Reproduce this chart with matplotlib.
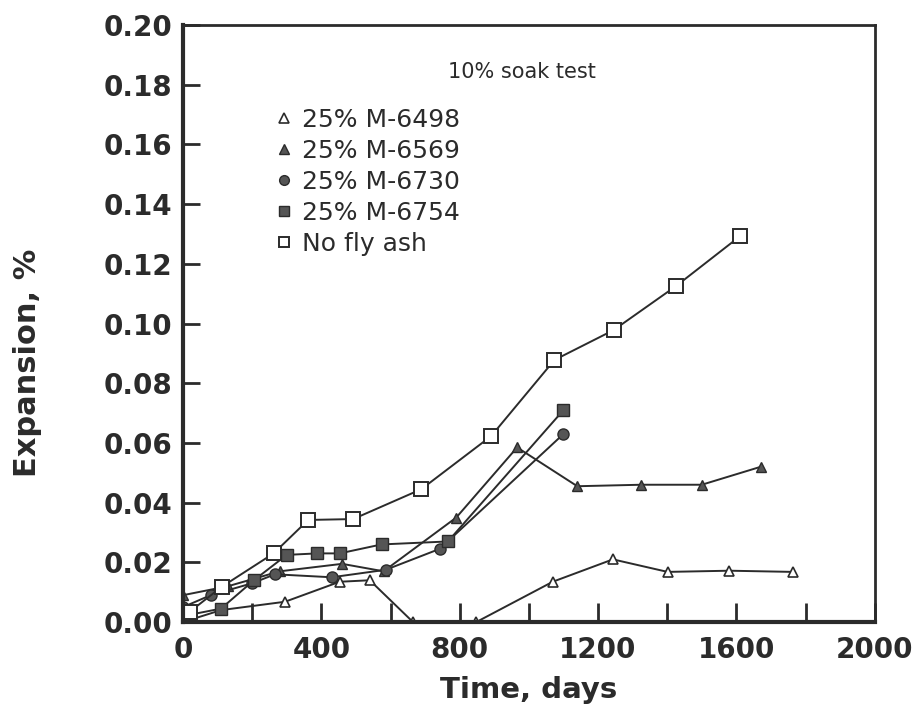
import numpy as np
import matplotlib
matplotlib.use('Agg')
from matplotlib import pyplot as plt
from matplotlib.ticker import MultipleLocator

# values
t_6498 = [0, 110, 295, 453, 540, 665, 848, 1069, 1243, 1401, 1580, 1763]
e_6498 = [0.000, 0.004, 0.0068, 0.0135, 0.014, 0.000, 0.000, 0.0135, 0.021, 0.0168, 0.0172, 0.0168]

t_6569 = [0, 130, 280, 460, 580, 790, 966, 1140, 1325, 1500, 1670]
e_6569 = [0.009, 0.012, 0.017, 0.0195, 0.017, 0.035, 0.0585, 0.0455, 0.046, 0.046, 0.052]

t_6730 = [0, 80, 200, 266, 430, 586, 742, 1100]
e_6730 = [0.005, 0.009, 0.013, 0.016, 0.015, 0.0175, 0.0245, 0.063]

t_6754 = [0, 110, 205, 300, 388, 453, 574, 766, 1100]
e_6754 = [0.002, 0.0045, 0.014, 0.0225, 0.023, 0.023, 0.026, 0.027, 0.071]

t_none = [0, 20, 112, 262, 362, 492, 689, 891, 1074, 1245, 1426, 1611]
e_none = [0.000, 0.0035, 0.0118, 0.023, 0.0342, 0.0345, 0.0445, 0.0623, 0.0878, 0.0978, 0.1126, 0.1293]

labels = ['25% M-6498', '25% M-6569', '25% M-6730', '25% M-6754', 'No fly ash']

ink = '#2b2b2b'
fill = '#555555'

fig = plt.figure(figsize=(9.15, 7.15), dpi=100)
ax = fig.add_axes([0.2, 0.13, 0.756, 0.835])

ax.plot(t_6498, e_6498, color=ink, lw=1.4, marker='^', ms=7, mfc='white', mec=ink, mew=1.2, label=labels[0])
ax.plot(t_6569, e_6569, color=ink, lw=1.4, marker='^', ms=7, mfc=fill, mec=ink, mew=1.0, label=labels[1])
ax.plot(t_6730, e_6730, color=ink, lw=1.4, marker='o', ms=8, mfc=fill, mec=ink, mew=1.0, label=labels[2])
ax.plot(t_6754, e_6754, color=ink, lw=1.4, marker='s', ms=8, mfc=fill, mec=ink, mew=1.0, label=labels[3])
ax.plot(t_none, e_none, color=ink, lw=1.4, marker='s', ms=10, mfc='white', mec=ink, mew=1.4, label=labels[4])

ax.set_xlim(0, 2000)
ax.set_ylim(0, 0.20)
ax.xaxis.set_major_locator(MultipleLocator(400))
ax.xaxis.set_minor_locator(MultipleLocator(200))
ax.yaxis.set_major_locator(MultipleLocator(0.02))
ax.yaxis.set_major_formatter(matplotlib.ticker.FormatStrFormatter('%.2f'))

ax.tick_params(which='both', direction='in', width=2, color=ink, top=False, right=False)
ax.tick_params(axis='x', which='both', length=14, labelsize=20, pad=10)
ax.tick_params(axis='y', which='major', length=12, labelsize=20, pad=8)
for lab in ax.get_xticklabels() + ax.get_yticklabels():
    lab.set_fontweight('bold')
    lab.set_color(ink)

for s in ['left', 'bottom']:
    ax.spines[s].set_linewidth(3)
for s in ['top', 'right']:
    ax.spines[s].set_linewidth(2)
for s in ax.spines.values():
    s.set_color(ink)

ax.set_xlabel('Time, days', fontsize=21, fontweight='bold', color=ink, labelpad=9)
ax.set_ylabel('Expansion, %', fontsize=22, fontweight='bold', color=ink)
ax.yaxis.set_label_coords(-0.204, 0.435)

ax.text(0.49, 0.921, '10% soak test', transform=ax.transAxes, fontsize=15,
        color=ink, ha='center', va='center')

leg = ax.legend(loc='upper left', bbox_to_anchor=(0.121, 0.878), frameon=False,
                fontsize=18, handlelength=0.6, handletextpad=0.4, labelspacing=0.28,
                borderaxespad=0)
for line in leg.get_lines():
    line.set_linestyle('none')
    line.set_markersize(7)
for txt in leg.get_texts():
    txt.set_color(ink)

fig.savefig('out.png', dpi=100)
